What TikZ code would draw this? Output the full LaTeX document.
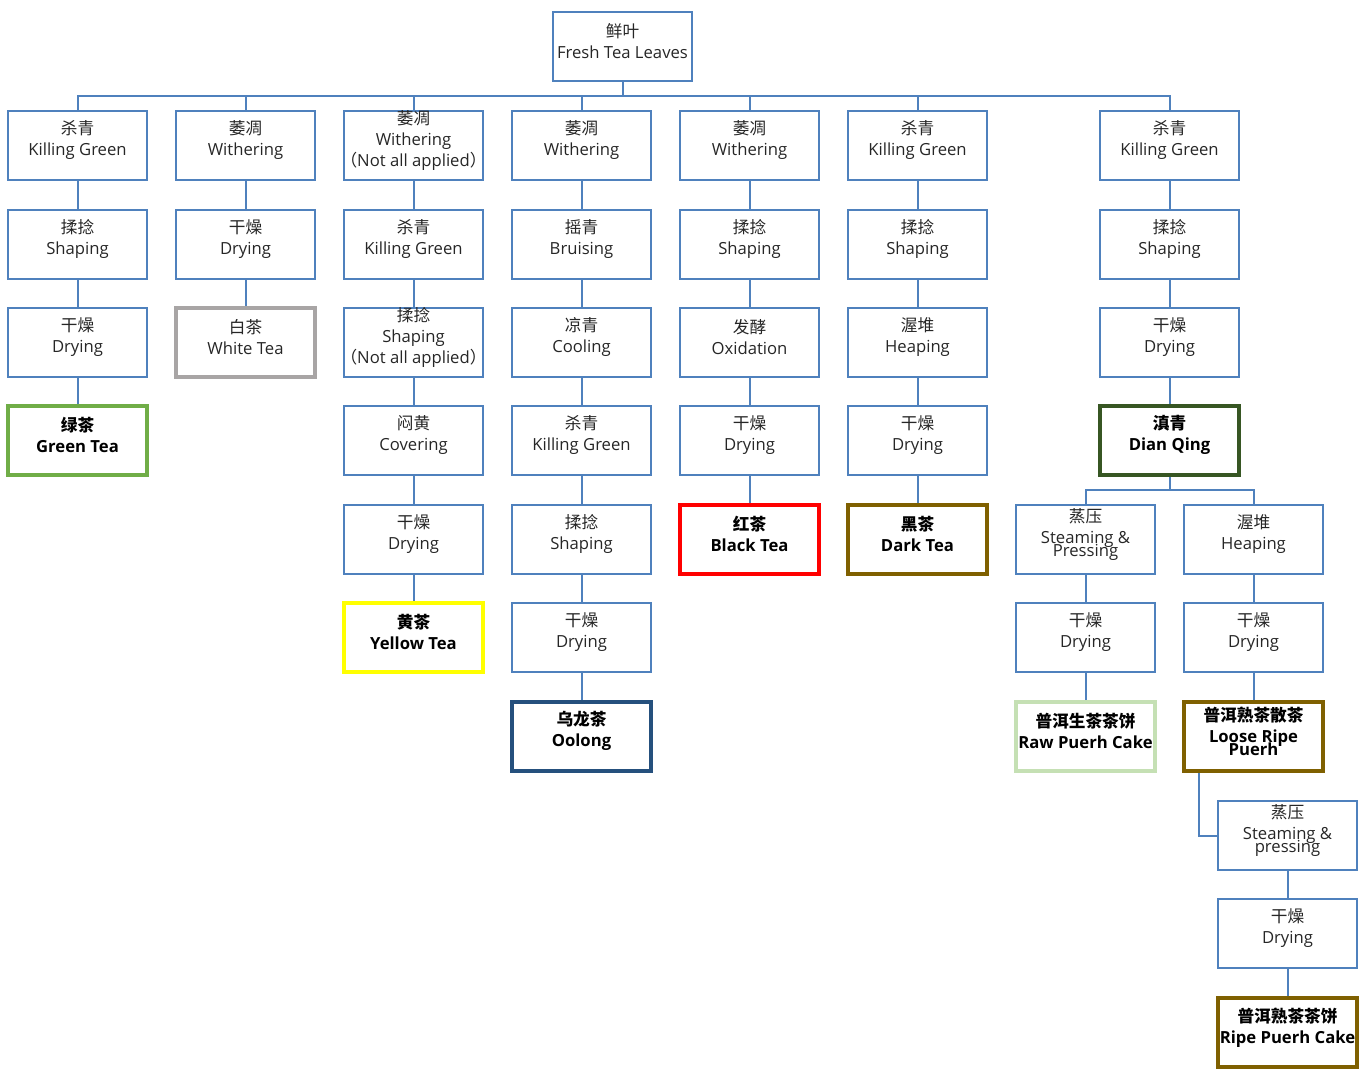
\documentclass[tikz,border=0pt]{standalone}
\usepackage{fontspec}
\setmainfont{Open Sans}
\newfontfamily\cjk{Noto Sans CJK SC}
\definecolor{lineblue}{RGB}{79,129,189}
\definecolor{greenedge}{RGB}{112,173,71}
\definecolor{greyedge}{RGB}{168,165,165}
\definecolor{yellowedge}{RGB}{255,255,0}
\definecolor{oolongedge}{RGB}{37,80,125}
\definecolor{rededge}{RGB}{255,0,0}
\definecolor{brownedge}{RGB}{127,96,0}
\definecolor{dianedge}{RGB}{55,86,35}
\definecolor{rawedge}{RGB}{197,224,180}
\tikzset{
  stepbox/.style={draw=lineblue, line width=1.5pt, minimum width=104.25pt, minimum height=51.75pt, inner sep=0pt},
  steptext/.style={align=center, inner sep=0pt, yshift=3.9pt, text=black!85, font=\fontsize{12.5}{15.75}\selectfont},
  teabox/.style={stepbox, draw=#1, line width=3.4pt},
  teatext/.style={steptext, text=black, font=\fontsize{12.5}{15.75}\selectfont\bfseries},
  link/.style={draw=lineblue, line width=1.5pt}
}
\begin{document}
\begin{tikzpicture}[x=0.75pt,y=-0.75pt]
\useasboundingbox (0,0) rectangle (1368,1077);

\node[stepbox, label={[steptext]center:{\cjk 鲜叶}\\Fresh Tea Leaves}] (leaves) at (622.5,46.5) {};

% process steps
\foreach \n/\x/\y/\zh/\en in {
  green1/77.5/145.5/杀青/Killing Green, green2/77.5/244.5/揉捻/Shaping, green3/77.5/342.5/干燥/Drying,
  white1/245.5/145.5/萎凋/Withering, white2/245.5/244.5/干燥/Drying,
  yellow1/413.5/145.5/萎凋/{Withering\\{\cjk （}Not all applied{\cjk ）}}, yellow2/413.5/244.5/杀青/Killing Green,
  yellow3/413.5/342.5/揉捻/{Shaping\\{\cjk （}Not all applied{\cjk ）}}, yellow4/413.5/440.5/闷黄/Covering,
  yellow5/413.5/539.5/干燥/Drying,
  oolong1/581.5/145.5/萎凋/Withering, oolong2/581.5/244.5/摇青/Bruising, oolong3/581.5/342.5/凉青/Cooling,
  oolong4/581.5/440.5/杀青/Killing Green, oolong5/581.5/539.5/揉捻/Shaping, oolong6/581.5/637.5/干燥/Drying,
  black1/749.5/145.5/萎凋/Withering, black2/749.5/244.5/揉捻/Shaping, black3/749.5/342.5/发酵/Oxidation,
  black4/749.5/440.5/干燥/Drying,
  dark1/917.5/145.5/杀青/Killing Green, dark2/917.5/244.5/揉捻/Shaping, dark3/917.5/342.5/渥堆/Heaping,
  dark4/917.5/440.5/干燥/Drying,
  puer1/1169.5/145.5/杀青/Killing Green, puer2/1169.5/244.5/揉捻/Shaping, puer3/1169.5/342.5/干燥/Drying,
  raw1/1085.5/539.5/蒸压/{Steaming \&\\[-6pt]Pressing}, raw2/1085.5/637.5/干燥/Drying,
  ripe1/1253.5/539.5/渥堆/Heaping, ripe2/1253.5/637.5/干燥/Drying,
  cake1/1287.5/835.5/蒸压/{Steaming \&\\[-6pt]pressing}, cake2/1287.5/933.5/干燥/Drying}
  \node[stepbox, label={[steptext]center:{\cjk\zh}\\\en}] (\n) at (\x,\y) {};

% teas
\node[teabox=greyedge, label={[steptext]center:{\cjk 白茶}\\White Tea}] (whitetea) at (245.5,342.5) {};
\foreach \n/\x/\y/\c/\zh/\en in {
  greentea/77.5/440.5/greenedge/绿茶/Green Tea, yellowtea/413.5/637.5/yellowedge/黄茶/Yellow Tea,
  oolongtea/581.5/736.5/oolongedge/乌龙茶/Oolong, blacktea/749.5/539.5/rededge/红茶/Black Tea,
  darktea/917.5/539.5/brownedge/黑茶/Dark Tea, dianqing/1169.5/440.5/dianedge/滇青/Dian Qing,
  rawcake/1085.5/736.5/rawedge/普洱生茶茶饼/Raw Puerh Cake,
  looseripe/1253.5/736.5/brownedge/普洱熟茶散茶/{Loose Ripe\\[-6pt]Puerh},
  ripecake/1287.5/1032.5/brownedge/普洱熟茶茶饼/Ripe Puerh Cake}
  \node[teabox=\c, label={[teatext]center:{\cjk\zh}\\\en}] (\n) at (\x,\y) {};

% connectors
\coordinate (bus) at (622.5,96);
\draw[link] (leaves) -- (bus);
\foreach \n in {green1,white1,yellow1,oolong1,black1,dark1,puer1} \draw[link] (bus) -| (\n);
\foreach \a/\b in {green1/green2, green2/green3, green3/greentea, white1/white2, white2/whitetea,
  yellow1/yellow2, yellow2/yellow3, yellow3/yellow4, yellow4/yellow5, yellow5/yellowtea,
  oolong1/oolong2, oolong2/oolong3, oolong3/oolong4, oolong4/oolong5, oolong5/oolong6, oolong6/oolongtea,
  black1/black2, black2/black3, black3/black4, black4/blacktea,
  dark1/dark2, dark2/dark3, dark3/dark4, dark4/darktea,
  puer1/puer2, puer2/puer3, puer3/dianqing, raw1/raw2, raw2/rawcake, ripe1/ripe2, ripe2/looseripe,
  cake1/cake2, cake2/ripecake}
  \draw[link] (\a) -- (\b);
\coordinate (split) at (1169.5,490);
\draw[link] (dianqing) -- (split);
\draw[link] (split) -| (raw1);
\draw[link] (split) -| (ripe1);
\draw[link] ([xshift=-41.25pt]looseripe.south) |- (cake1);
\end{tikzpicture}
\end{document}
